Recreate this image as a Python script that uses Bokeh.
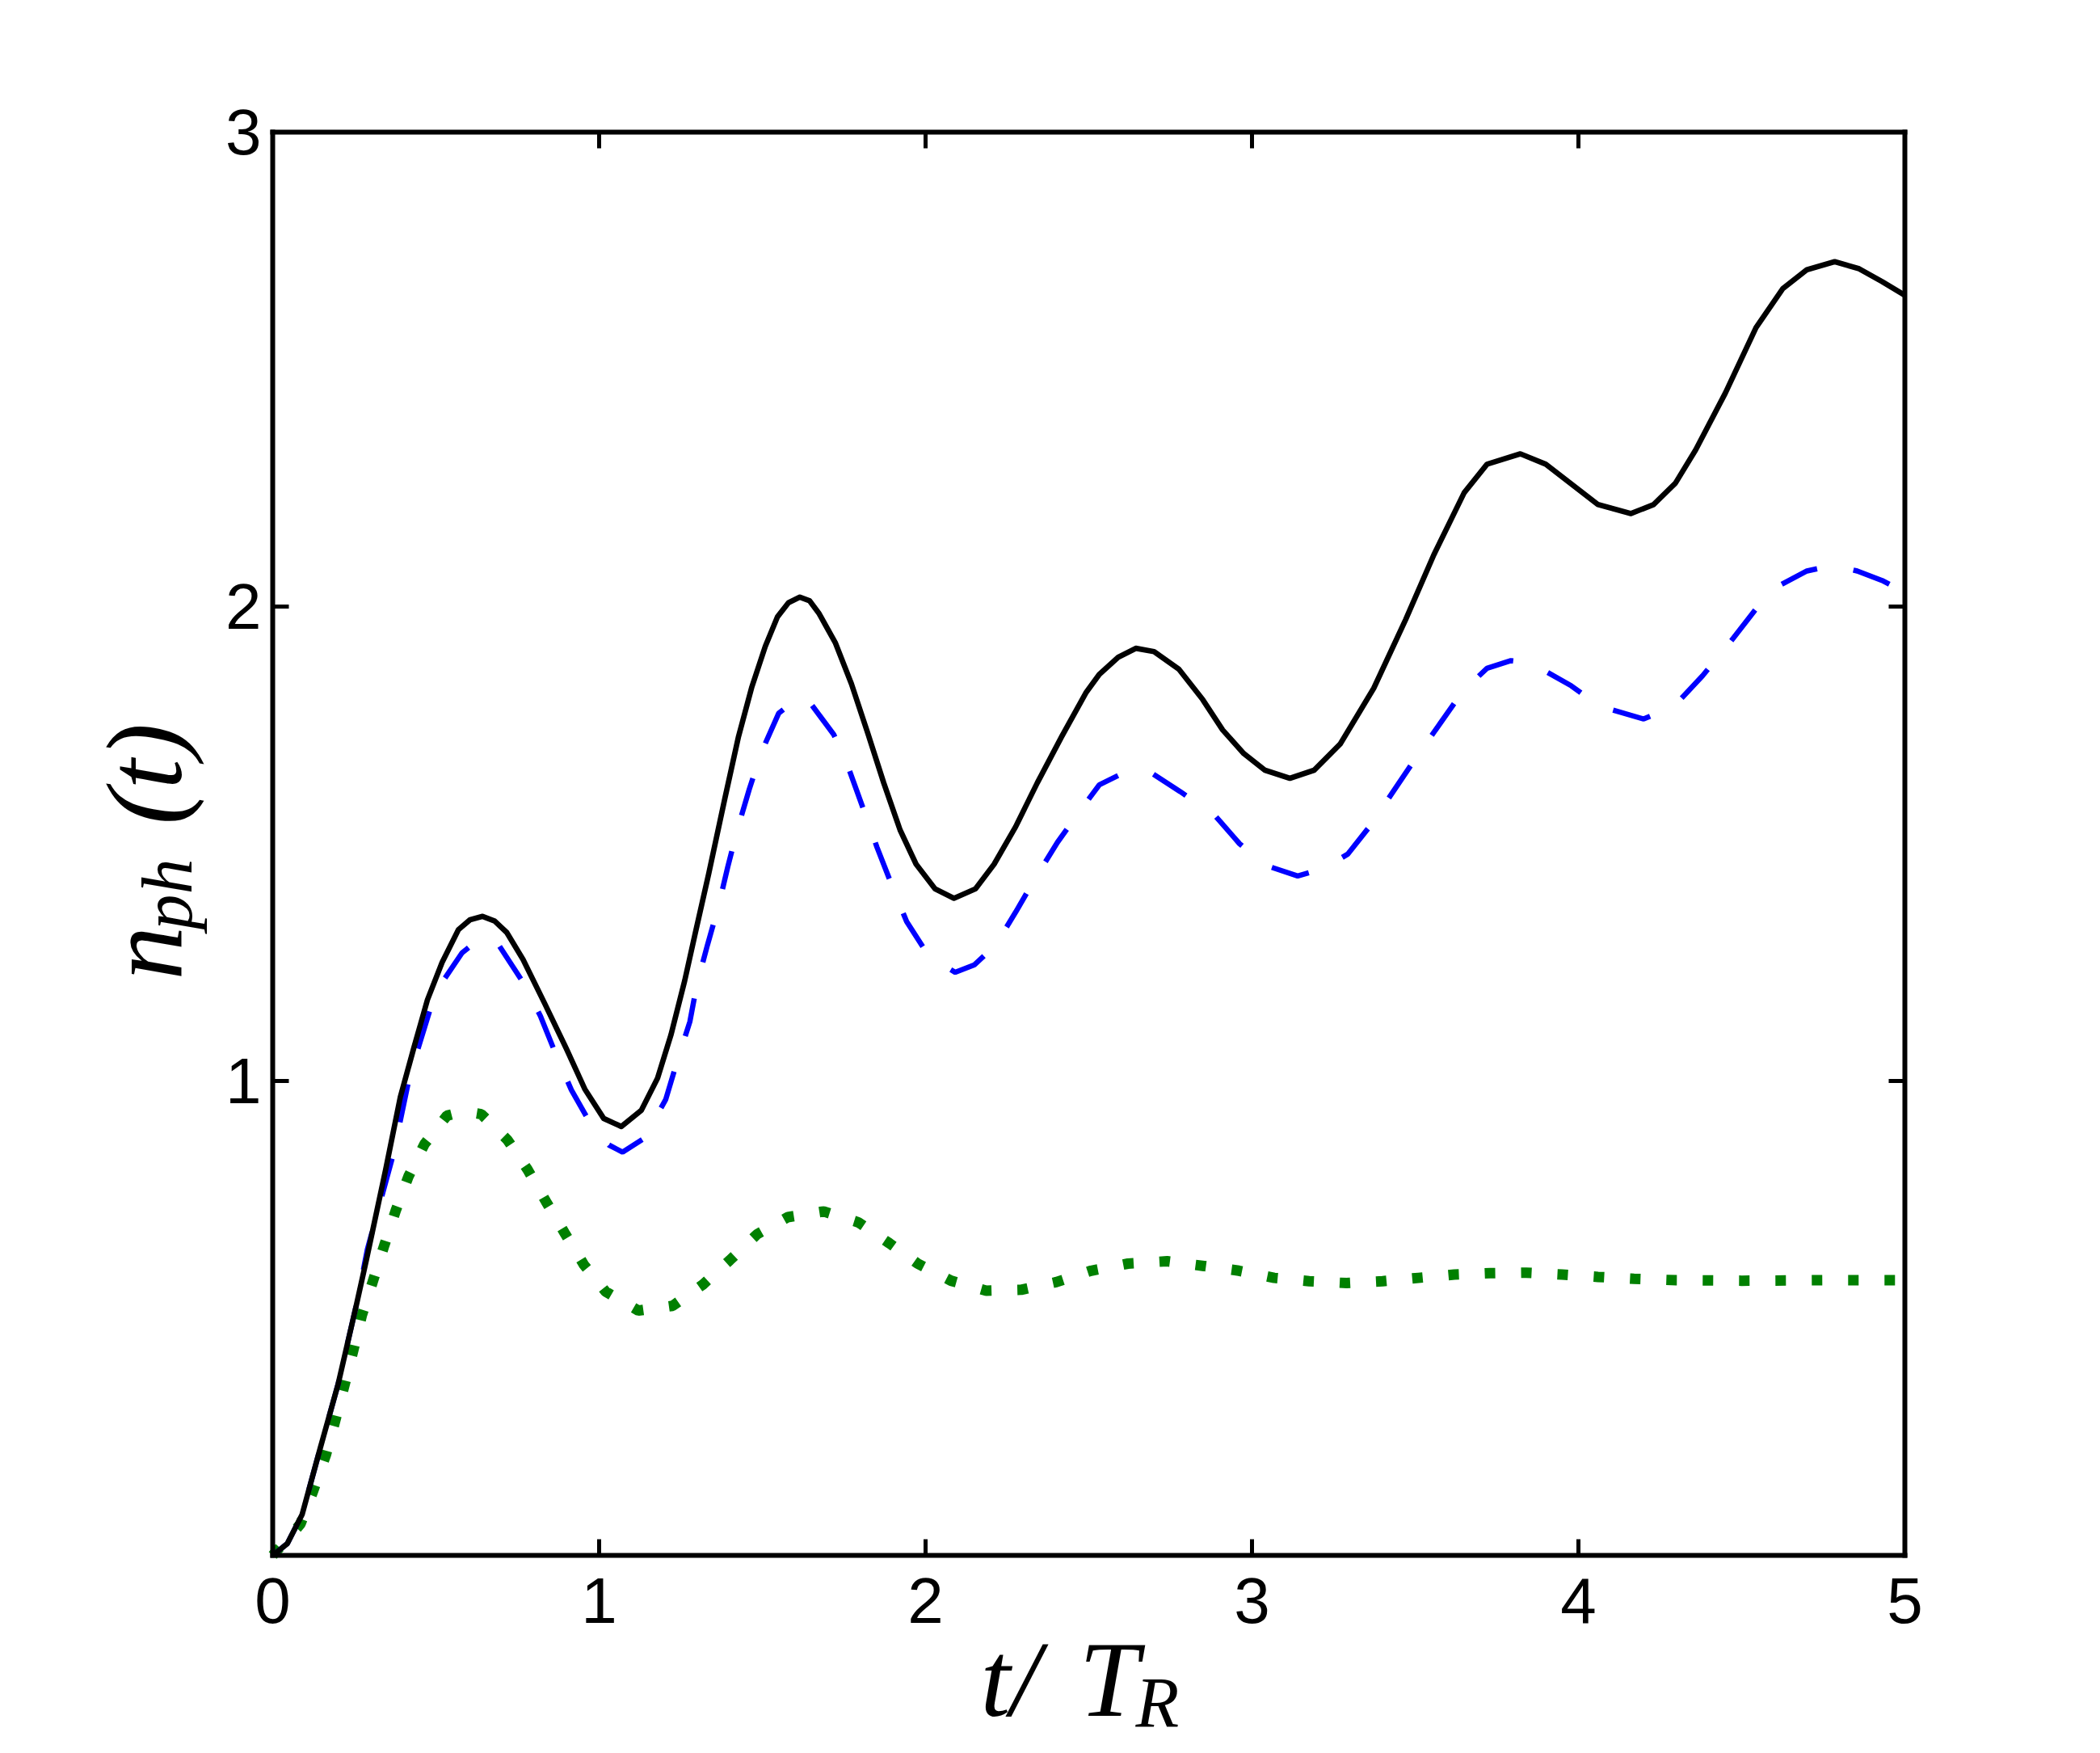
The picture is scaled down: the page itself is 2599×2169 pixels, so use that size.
from math import pi
from bokeh.plotting import figure
from bokeh.models import FixedTicker, LinearAxis, Label, Range1d
from bokeh.embed import file_html
from bokeh.resources import INLINE

# ---- data ----
t_total = [0, 0.045, 0.09, 0.146, 0.2, 0.257, 0.288, 0.346, 0.391, 0.432, 0.474, 0.519, 0.569,
           0.605, 0.643, 0.68, 0.717, 0.767, 0.832, 0.899, 0.956, 1.014, 1.068, 1.129, 1.179,
           1.22, 1.262, 1.295, 1.336, 1.385, 1.427, 1.468, 1.509, 1.546, 1.58, 1.615, 1.645,
           1.674, 1.724, 1.773, 1.823, 1.872, 1.922, 1.971, 2.029, 2.087, 2.153, 2.21, 2.276,
           2.342, 2.417, 2.491, 2.532, 2.59, 2.644, 2.70, 2.776, 2.849, 2.91, 2.975, 3.04, 3.116,
           3.19, 3.27, 3.373, 3.471, 3.557, 3.65, 3.72, 3.822, 3.9, 3.968, 4.06, 4.161, 4.23,
           4.297, 4.359, 4.45, 4.544, 4.626, 4.70, 4.785, 4.86, 4.93, 5.0]
n_total = [0, 0.025, 0.086, 0.227, 0.36, 0.53, 0.626, 0.813, 0.966, 1.069, 1.171, 1.25, 1.319,
           1.340, 1.347, 1.337, 1.313, 1.256, 1.165, 1.069, 0.983, 0.921, 0.904, 0.938, 1.006,
           1.097, 1.211, 1.313, 1.438, 1.595, 1.726, 1.831, 1.916, 1.978, 2.008, 2.020, 2.012,
           1.985, 1.923, 1.837, 1.733, 1.628, 1.529, 1.457, 1.405, 1.385, 1.405, 1.457, 1.536,
           1.628, 1.726, 1.818, 1.857, 1.893, 1.912, 1.905, 1.868, 1.804, 1.74, 1.69, 1.655, 1.638,
           1.655, 1.71, 1.828, 1.973, 2.109, 2.24, 2.30, 2.322, 2.30, 2.264, 2.215, 2.196, 2.215,
           2.26, 2.33, 2.45, 2.588, 2.67, 2.71, 2.727, 2.712, 2.685, 2.656]

t_dashed = [0, 0.045, 0.09, 0.146, 0.2, 0.257, 0.29, 0.37, 0.42, 0.494, 0.525, 0.58, 0.639,
            0.692, 0.767, 0.82, 0.87, 0.915, 0.981, 1.03, 1.072, 1.138, 1.204, 1.237, 1.278,
            1.299, 1.332, 1.365, 1.394, 1.423, 1.46, 1.497, 1.55, 1.616, 1.64, 1.719, 1.765,
            1.81, 1.851, 1.897, 1.942, 2.012, 2.091, 2.15, 2.215, 2.276, 2.342, 2.404, 2.479,
            2.532, 2.62, 2.69, 2.78, 2.886, 2.962, 3.04, 3.14, 3.22, 3.293, 3.361, 3.497, 3.645,
            3.72, 3.793, 3.855, 3.978, 4.065, 4.2, 4.293, 4.38, 4.459, 4.544, 4.62, 4.7, 4.78,
            4.854, 4.93, 5.0]
n_dashed = [0, 0.025, 0.086, 0.227, 0.36, 0.53, 0.645, 0.847, 1.012, 1.177, 1.214, 1.27, 1.303,
            1.287, 1.208, 1.137, 1.052, 0.981, 0.901, 0.865, 0.85, 0.879, 0.961, 1.037, 1.125,
            1.202, 1.287, 1.367, 1.451, 1.529, 1.615, 1.693, 1.775, 1.811, 1.803, 1.73, 1.658,
            1.572, 1.493, 1.412, 1.336, 1.261, 1.229, 1.245, 1.287, 1.356, 1.434, 1.503, 1.575,
            1.624, 1.654, 1.65, 1.61, 1.56, 1.50, 1.455, 1.432, 1.448, 1.478, 1.537, 1.676, 1.821,
            1.87, 1.886, 1.881, 1.833, 1.79, 1.763, 1.79, 1.854, 1.92, 1.995, 2.046, 2.075, 2.087,
            2.075, 2.055, 2.03]

t_dotted = [0, 0.085, 0.124, 0.163, 0.19, 0.218, 0.246, 0.273, 0.306, 0.342, 0.377, 0.416, 0.465,
            0.534, 0.585, 0.639, 0.719, 0.781, 0.837, 0.894, 0.954, 1.02, 1.12, 1.225, 1.318, 1.4,
            1.484, 1.578, 1.688, 1.794, 1.889, 1.976, 2.078, 2.186, 2.293, 2.4, 2.507, 2.62, 2.74,
            2.853, 2.96, 3.068, 3.175, 3.29, 3.4, 3.51, 3.62, 3.73, 3.84, 3.95, 4.06, 4.17, 4.3,
            4.5, 4.75, 5.0]
n_dotted = [0, 0.066, 0.136, 0.212, 0.28, 0.354, 0.43, 0.506, 0.576, 0.654, 0.727, 0.799, 0.867,
            0.927, 0.936, 0.930, 0.876, 0.813, 0.746, 0.68, 0.612, 0.556, 0.516, 0.526, 0.571,
            0.622, 0.677, 0.713, 0.725, 0.702, 0.658, 0.615, 0.579, 0.558, 0.56, 0.576, 0.6, 0.615,
            0.62, 0.61, 0.60, 0.585, 0.578, 0.574, 0.578, 0.585, 0.592, 0.595, 0.596, 0.592, 0.587,
            0.583, 0.58, 0.579, 0.58, 0.58]

x_ticks = [0, 1, 2, 3, 4, 5]
y_ticks = [1, 2, 3]
X_MIN, X_MAX = 0, 5
Y_MIN, Y_MAX = 0, 3

# ---- layout: the plotting box inside a full-canvas frame ----
W, H = 2580, 2160
BOX_L, BOX_R, BOX_T, BOX_B = 337, 2357, 163, 1924   # box edges in canvas pixels
x_per = (BOX_R - BOX_L) / (X_MAX - X_MIN)
y_per = (BOX_B - BOX_T) / (Y_MAX - Y_MIN)
x_range = Range1d(X_MIN - BOX_L / x_per, X_MAX + (W - BOX_R) / x_per)
y_range = Range1d(Y_MIN - (H - BOX_B) / y_per, Y_MAX + BOX_T / y_per)


def to_x(px):
    return X_MIN + (px - BOX_L) / x_per


def to_y(py):
    return Y_MIN + (BOX_B - py) / y_per


p = figure(width=W, height=H, output_backend="svg", toolbar_location=None, title=None,
           x_range=x_range, y_range=y_range, min_border=0,
           x_axis_location=None, y_axis_location=None)
p.grid.visible = False
p.background_fill_color = "white"
p.border_fill_color = "white"
p.outline_line_color = None

TICK_FONT = "Liberation Sans"


def make_axis(ticks, loc, bounds, side, show_labels, standoff):
    ax = LinearAxis(ticker=FixedTicker(ticks=ticks), fixed_location=loc, bounds=bounds)
    ax.axis_line_width = 6
    ax.axis_line_color = "black"
    ax.axis_line_cap = "square"
    ax.major_tick_in = 20
    ax.major_tick_out = 0
    ax.major_tick_line_width = 5
    ax.major_tick_line_color = "black"
    ax.minor_tick_line_color = None
    ax.major_label_text_font = TICK_FONT
    ax.major_label_text_font_size = "80px"
    ax.major_label_text_color = "black"
    ax.major_label_standoff = standoff
    if not show_labels:
        ax.major_label_text_font_size = "0px"
        ax.major_label_text_color = None
    p.add_layout(ax, side)


make_axis(x_ticks, Y_MIN, (X_MIN, X_MAX), "below", True, 28)
make_axis(x_ticks, Y_MAX, (X_MIN, X_MAX), "above", False, 0)
make_axis(y_ticks, X_MIN, (Y_MIN, Y_MAX), "left", True, 14)
make_axis([1, 2], X_MAX, (Y_MIN, Y_MAX), "right", False, 0)

# ---- curves ----
p.line(t_dotted, n_dotted, line_color="#008000", line_width=13, line_dash="13 32", line_cap="butt")
p.line(t_dashed, n_dashed, line_color="#0000ff", line_width=6.5, line_dash="48 46", line_cap="butt")
p.line(t_total, n_total, line_color="black", line_width=6.7, line_join="round")

# ---- axis titles (math-like, built from pieces) ----
SERIF = "Liberation Serif"


def lab(px, py, text, size, angle=0.0):
    p.add_layout(Label(x=to_x(px), y=to_y(py), text=text,
                       text_font=SERIF, text_font_style="italic", text_font_size=size,
                       text_color="black", angle=angle, text_align="left",
                       text_baseline="alphabetic"))


lab(1213, 2077, "t/", "133px")
lab(1335, 2077, "T", "133px")
lab(1405, 2106, "R", "88px")

lab(178, 1212, "n", "133px", pi / 2)
lab(207, 1150, "ph", "88px", pi / 2)
lab(178, 1020, "(t)", "133px", pi / 2)

open("out.html", "w").write(file_html(p, INLINE))
